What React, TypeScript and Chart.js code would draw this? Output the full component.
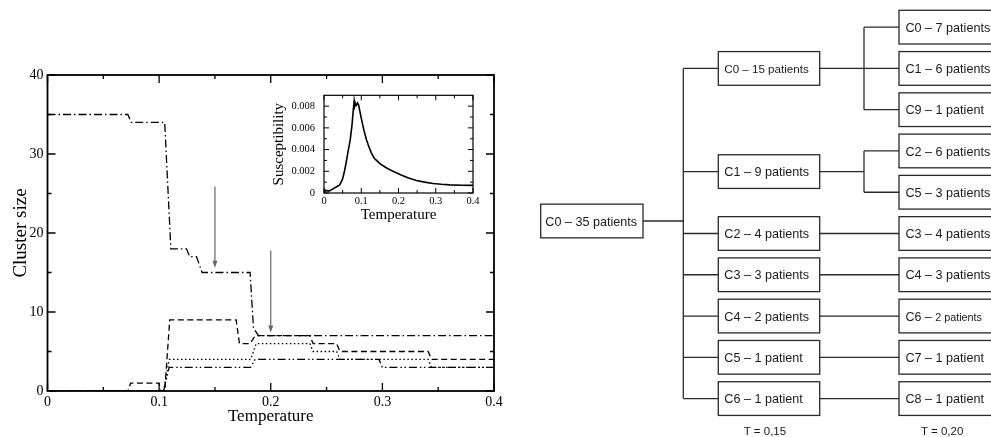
import React, { useEffect, useRef } from 'react';
import { Chart, registerables } from 'chart.js';

Chart.register(...registerables);

// ---------- main chart data ----------
const temperatureTicks = [0, 0.1, 0.2, 0.3, 0.4];
const temperatureTickLabels = ['0', '0.1', '0.2', '0.3', '0.4'];
const temperatureMinor = [0.05, 0.15, 0.25, 0.35];
const clusterTicks = [0, 10, 20, 30, 40];
const clusterTickLabels = ['0', '10', '20', '30', '40'];
const clusterMinor = [5, 15, 25, 35];

const largestT = [0, 0.072, 0.075, 0.105, 0.1105, 0.1245, 0.1275, 0.1335, 0.1385, 0.1815, 0.1845, 0.189, 0.4];
const largestSize = [35, 35, 34, 34, 18, 18, 17, 17, 15, 15, 8, 7, 7];

const secondT = [0, 0.072, 0.0745, 0.1, 0.101, 0.105, 0.1095, 0.169, 0.172, 0.1815, 0.186, 0.235, 0.238, 0.259, 0.262, 0.341, 0.344, 0.4];
const secondSize = [0, 0, 1, 1, 0, 0, 9, 9, 6, 6, 7, 7, 6, 6, 5, 5, 4, 4];

const thirdT = [0, 0.104, 0.109, 0.182, 0.187, 0.235, 0.238, 0.259, 0.262, 0.341, 0.344, 0.4];
const thirdSize = [0, 0, 4, 4, 6, 6, 5, 5, 4, 4, 3, 3];

const fourthT = [0, 0.104, 0.109, 0.182, 0.186, 0.297, 0.3, 0.4];
const fourthSize = [0, 0, 3, 3, 4, 4, 3, 3];

const arrowT = [0.15, 0.2];
const arrowFrom = [25.9, 17.8];
const arrowTo = [15.6, 7.4];

// ---------- inset data ----------
const insetTicks = [0, 0.1, 0.2, 0.3, 0.4];
const insetTickLabels = ['0', '0.1', '0.2', '0.3', '0.4'];
const insetMinor = [0.05, 0.15, 0.25, 0.35];
const suscTicks = [0, 0.002, 0.004, 0.006, 0.008];
const suscTickLabels = ['0', '0.002', '0.004', '0.006', '0.008'];
const suscMinor = [0.001, 0.003, 0.005, 0.007];

const suscT = [0, 0.004, 0.008, 0.015, 0.025, 0.035, 0.042, 0.046, 0.05, 0.055, 0.06, 0.065, 0.07, 0.075, 0.079, 0.081, 0.083, 0.085, 0.087, 0.09, 0.093, 0.1, 0.107, 0.114, 0.12, 0.127, 0.135, 0.141, 0.15, 0.168, 0.185, 0.204, 0.225, 0.248, 0.27, 0.293, 0.315, 0.338, 0.37, 0.4];
const suscV = [0, 0.00025, 0.0002, 0.0002, 0.0004, 0.0006, 0.00075, 0.001, 0.0013, 0.002, 0.0029, 0.0039, 0.0048, 0.0062, 0.0078, 0.0085, 0.008, 0.0082, 0.0081, 0.0083, 0.0081, 0.0069, 0.0058, 0.0049, 0.0043, 0.0037, 0.0032, 0.003, 0.0027, 0.0023, 0.002, 0.0017, 0.0014, 0.00115, 0.001, 0.00088, 0.0008, 0.00075, 0.00072, 0.0007];

// ---------- tree data ----------
const rootLabel = 'C0 – 35 patients';
const level1Labels = ['C0 – 15 patients', 'C1 – 9 patients', 'C2 – 4 patients', 'C3 – 3 patients', 'C4 – 2 patients', 'C5 – 1 patient', 'C6 – 1 patient'];
const level2Labels = ['C0 – 7 patients', 'C1 – 6 patients', 'C9 – 1 patient', 'C2 – 6 patients', 'C5 – 3 patients', 'C3 – 4 patients', 'C4 – 3 patients', 'C6 – 2 patients', 'C7 – 1 patient', 'C8 – 1 patient'];
const level2Parent = [0, 0, 0, 1, 1, 2, 3, 4, 5, 6];
const levelTitles = ['T = 0,15', 'T = 0,20'];

const SERIF = "'Liberation Serif', 'Times New Roman', serif";
const SANS = "'Liberation Sans', Arial, Helvetica, sans-serif";

const pts = (xs: number[], ys: number[]) => xs.map((x, i) => ({ x, y: ys[i] }));

function makeFramePlugin(cfg: any) {
  return {
    id: 'frame_' + cfg.name,
    afterDatasetsDraw(chart: any) {
      const { ctx, chartArea: a, scales } = chart;
      const xs = scales.x;
      const ys = scales.y;
      ctx.save();
      ctx.strokeStyle = '#000';
      ctx.lineWidth = cfg.tw;
      ctx.beginPath();
      const xt = (vals: number[], len: number) => {
        vals.forEach((v) => {
          const p = xs.getPixelForValue(v);
          ctx.moveTo(p, a.bottom);
          ctx.lineTo(p, a.bottom - len);
          ctx.moveTo(p, a.top);
          ctx.lineTo(p, a.top + len);
        });
      };
      const yt = (vals: number[], len: number) => {
        vals.forEach((v) => {
          const p = ys.getPixelForValue(v);
          ctx.moveTo(a.left, p);
          ctx.lineTo(a.left + len, p);
          ctx.moveTo(a.right, p);
          ctx.lineTo(a.right - len, p);
        });
      };
      xt(cfg.xMajor, cfg.major);
      xt(cfg.xMinor, cfg.minor);
      yt(cfg.yMajor, cfg.major);
      yt(cfg.yMinor, cfg.minor);
      ctx.stroke();
      ctx.lineWidth = cfg.lw;
      ctx.strokeRect(a.left, a.top, a.right - a.left, a.bottom - a.top);
      ctx.restore();
    },
  };
}

const arrowPlugin = {
  id: 'arrows',
  afterDatasetsDraw(chart: any) {
    const { ctx, scales } = chart;
    ctx.save();
    ctx.strokeStyle = '#666';
    ctx.fillStyle = '#666';
    ctx.lineWidth = 1.2;
    arrowT.forEach((t, i) => {
      const x = scales.x.getPixelForValue(t);
      const y0 = scales.y.getPixelForValue(arrowFrom[i]);
      const y1 = scales.y.getPixelForValue(arrowTo[i]);
      ctx.beginPath();
      ctx.moveTo(x, y0);
      ctx.lineTo(x, y1 - 5);
      ctx.stroke();
      ctx.beginPath();
      ctx.moveTo(x, y1);
      ctx.lineTo(x - 2.5, y1 - 7);
      ctx.lineTo(x + 2.5, y1 - 7);
      ctx.closePath();
      ctx.fill();
    });
    ctx.restore();
  },
};

function MainChart() {
  const ref = useRef<HTMLCanvasElement | null>(null);
  useEffect(() => {
    if (!ref.current) return;
    const lineDs = (label: string, data: any[], dash: number[]) => ({
      label,
      data,
      borderColor: '#000',
      borderWidth: 1.3,
      borderDash: dash,
      pointRadius: 0,
      fill: false,
      tension: 0,
    });
    const chart = new Chart(ref.current, {
      type: 'line',
      data: {
        datasets: [
          lineDs('largest', pts(largestT, largestSize), [8, 3, 1.5, 3]),
          lineDs('second', pts(secondT, secondSize), [6, 3.5]),
          lineDs('third', pts(thirdT, thirdSize), [1.5, 2.5]),
          lineDs('fourth', pts(fourthT, fourthSize), [8, 3, 1.5, 2.5, 1.5, 3]),
        ],
      },
      options: {
        animation: false,
        responsive: false,
        layout: { padding: { top: 75, right: 26, left: 0, bottom: 0 } },
        plugins: { legend: { display: false }, tooltip: { enabled: false } },
        scales: {
          x: {
            type: 'linear',
            min: 0,
            max: 0.4,
            grid: { display: false, drawTicks: false },
            border: { display: false },
            afterBuildTicks: (s: any) => {
              s.ticks = temperatureTicks.map((v) => ({ value: v }));
            },
            afterFit: (s: any) => {
              s.height = 46;
            },
            ticks: {
              callback: (_v: any, i: number) => temperatureTickLabels[i],
              font: { family: SERIF, size: 14 },
              color: '#000',
              padding: 3,
              maxRotation: 0,
              autoSkip: false,
            },
            title: {
              display: true,
              text: 'Temperature',
              font: { family: SERIF, size: 17 },
              color: '#000',
              padding: { top: 0, bottom: 10.5 },
            },
          },
          y: {
            type: 'linear',
            min: 0,
            max: 40,
            grid: { display: false, drawTicks: false },
            border: { display: false },
            afterBuildTicks: (s: any) => {
              s.ticks = clusterTicks.map((v) => ({ value: v }));
            },
            afterFit: (s: any) => {
              s.width = 47.5;
            },
            ticks: {
              callback: (_v: any, i: number) => clusterTickLabels[i],
              font: { family: SERIF, size: 14 },
              color: '#000',
              padding: 4,
              autoSkip: false,
            },
            title: {
              display: true,
              text: 'Cluster size',
              font: { family: SERIF, size: 19 },
              color: '#000',
              padding: { top: 10, bottom: 0 },
            },
          },
        },
      },
      plugins: [
        makeFramePlugin({
          name: 'main',
          lw: 1.8,
          tw: 1.3,
          major: 8,
          minor: 4,
          xMajor: temperatureTicks,
          xMinor: temperatureMinor,
          yMajor: clusterTicks,
          yMinor: clusterMinor,
        }),
        arrowPlugin,
      ],
    } as any);
    return () => chart.destroy();
  }, []);
  return (
    <canvas
      ref={ref}
      width={520}
      height={437}
      style={{ position: 'absolute', left: 0, top: 0, width: 520, height: 437 }}
    />
  );
}

function InsetChart() {
  const ref = useRef<HTMLCanvasElement | null>(null);
  useEffect(() => {
    if (!ref.current) return;
    const chart = new Chart(ref.current, {
      type: 'line',
      data: {
        datasets: [
          {
            label: 'Susceptibility',
            data: pts(suscT, suscV),
            borderColor: '#000',
            borderWidth: 1.6,
            pointRadius: 0,
            fill: false,
            tension: 0,
          },
        ],
      },
      options: {
        animation: false,
        responsive: false,
        layout: { padding: { top: 9, right: 17, left: 0, bottom: 0 } },
        plugins: { legend: { display: false }, tooltip: { enabled: false } },
        scales: {
          x: {
            type: 'linear',
            min: 0,
            max: 0.4,
            grid: { display: false, drawTicks: false },
            border: { display: false },
            afterBuildTicks: (s: any) => {
              s.ticks = insetTicks.map((v) => ({ value: v }));
            },
            afterFit: (s: any) => {
              s.height = 37;
            },
            ticks: {
              callback: (_v: any, i: number) => insetTickLabels[i],
              font: { family: SERIF, size: 10.5 },
              color: '#000',
              padding: 2,
              maxRotation: 0,
              autoSkip: false,
            },
            title: {
              display: true,
              text: 'Temperature',
              font: { family: SERIF, size: 15 },
              color: '#000',
              padding: { top: 0, bottom: 6 },
            },
          },
          y: {
            type: 'linear',
            min: 0,
            max: 0.009,
            grid: { display: false, drawTicks: false },
            border: { display: false },
            afterBuildTicks: (s: any) => {
              s.ticks = suscTicks.map((v) => ({ value: v }));
            },
            afterFit: (s: any) => {
              s.width = 64;
            },
            ticks: {
              callback: (_v: any, i: number) => suscTickLabels[i],
              font: { family: SERIF, size: 10.5 },
              color: '#000',
              padding: 9,
              autoSkip: false,
            },
            title: {
              display: true,
              text: 'Susceptibility',
              font: { family: SERIF, size: 15 },
              color: '#000',
              padding: { top: 10, bottom: 0 },
            },
          },
        },
      },
      plugins: [
        makeFramePlugin({
          name: 'inset',
          lw: 1.2,
          tw: 1,
          major: 5,
          minor: 3,
          xMajor: insetTicks,
          xMinor: insetMinor,
          yMajor: suscTicks,
          yMinor: suscMinor,
        }),
      ],
    } as any);
    return () => chart.destroy();
  }, []);
  return (
    <canvas
      ref={ref}
      width={230}
      height={150}
      style={{ position: 'absolute', left: 260, top: 80, width: 230, height: 150 }}
    />
  );
}

// tree layout
const rowTop0 = 10.3;
const rowStep = 41.27;
const boxH = 33.7;
const boxW = 101.4;
const col1X = 718.3;
const col2X = 899;
const rootX = 540.7;
const rootW = 102.3;
const rootCY = 221;
const bus0X = 683.3;
const bus1X = 864;

function BoxText({ x, cy, label, size }: { x: number; cy: number; label: string; size: number }) {
  if (label === 'C6 – 2 patients') {
    return (
      <text x={x} y={cy + 4.6} fontFamily={SANS} fontSize={12.4} fill="#1a1a1a">
        C6 – <tspan fontSize={10.8}>2 patients</tspan>
      </text>
    );
  }
  return (
    <text x={x} y={cy + 4.6} fontFamily={SANS} fontSize={size} fill="#1a1a1a">
      {label}
    </text>
  );
}

function Tree() {
  const c2 = level2Labels.map((_, i) => rowTop0 + i * rowStep + boxH / 2);
  const c1 = level1Labels.map((_, p) => {
    const kids = c2.filter((_, i) => level2Parent[i] === p);
    return kids.reduce((s, v) => s + v, 0) / kids.length;
  });
  const stroke = '#2a2a2a';
  const sw = 1.3;
  const lines: any[] = [];
  lines.push(<line key="r" x1={rootX + rootW} y1={rootCY} x2={bus0X} y2={rootCY} />);
  lines.push(<line key="bus0" x1={bus0X} y1={c1[0]} x2={bus0X} y2={c1[c1.length - 1]} />);
  c1.forEach((cy, i) => {
    lines.push(<line key={'b1' + i} x1={bus0X} y1={cy} x2={col1X} y2={cy} />);
    const kids = c2.map((v, k) => ({ v, k })).filter((o) => level2Parent[o.k] === i);
    if (kids.length === 1) {
      lines.push(<line key={'s' + i} x1={col1X + boxW} y1={cy} x2={col2X} y2={cy} />);
    } else {
      lines.push(<line key={'s' + i} x1={col1X + boxW} y1={cy} x2={bus1X} y2={cy} />);
      lines.push(
        <line key={'sb' + i} x1={bus1X} y1={kids[0].v} x2={bus1X} y2={kids[kids.length - 1].v} />
      );
      kids.forEach((o) =>
        lines.push(<line key={'sk' + i + '_' + o.k} x1={bus1X} y1={o.v} x2={col2X} y2={o.v} />)
      );
    }
  });
  return (
    <svg
      width={991}
      height={437}
      style={{ position: 'absolute', left: 0, top: 0, pointerEvents: 'none' }}
    >
      <g stroke={stroke} strokeWidth={sw} fill="none">
        {lines}
        <rect x={rootX} y={rootCY - boxH / 2} width={rootW} height={boxH} fill="#fff" />
        {c1.map((cy, i) => (
          <rect key={'r1' + i} x={col1X} y={cy - boxH / 2} width={boxW} height={boxH} fill="#fff" />
        ))}
        {c2.map((cy, i) => (
          <rect key={'r2' + i} x={col2X} y={cy - boxH / 2} width={boxW} height={boxH} fill="#fff" />
        ))}
      </g>
      <BoxText x={rootX + 4.6} cy={rootCY} label={rootLabel} size={12.6} />
      {c1.map((cy, i) => (
        <BoxText key={'t1' + i} x={col1X + 6} cy={cy} label={level1Labels[i]} size={i === 0 ? 11.6 : 12.6} />
      ))}
      {c2.map((cy, i) => (
        <BoxText key={'t2' + i} x={col2X + 6.5} cy={cy} label={level2Labels[i]} size={12.6} />
      ))}
      <text x={col1X + boxW / 2 - 4} y={435} fontFamily={SANS} fontSize={11.5} fill="#1a1a1a" textAnchor="middle">
        {levelTitles[0]}
      </text>
      <text x={col2X + boxW / 2 - 7.5} y={435} fontFamily={SANS} fontSize={11.5} fill="#1a1a1a" textAnchor="middle">
        {levelTitles[1]}
      </text>
    </svg>
  );
}

export default function App() {
  return (
    <div
      style={{
        position: 'fixed',
        left: 0,
        top: 0,
        width: 991,
        height: 437,
        background: '#fff',
        overflow: 'hidden',
      }}
    >
      <MainChart />
      <InsetChart />
      <Tree />
    </div>
  );
}
